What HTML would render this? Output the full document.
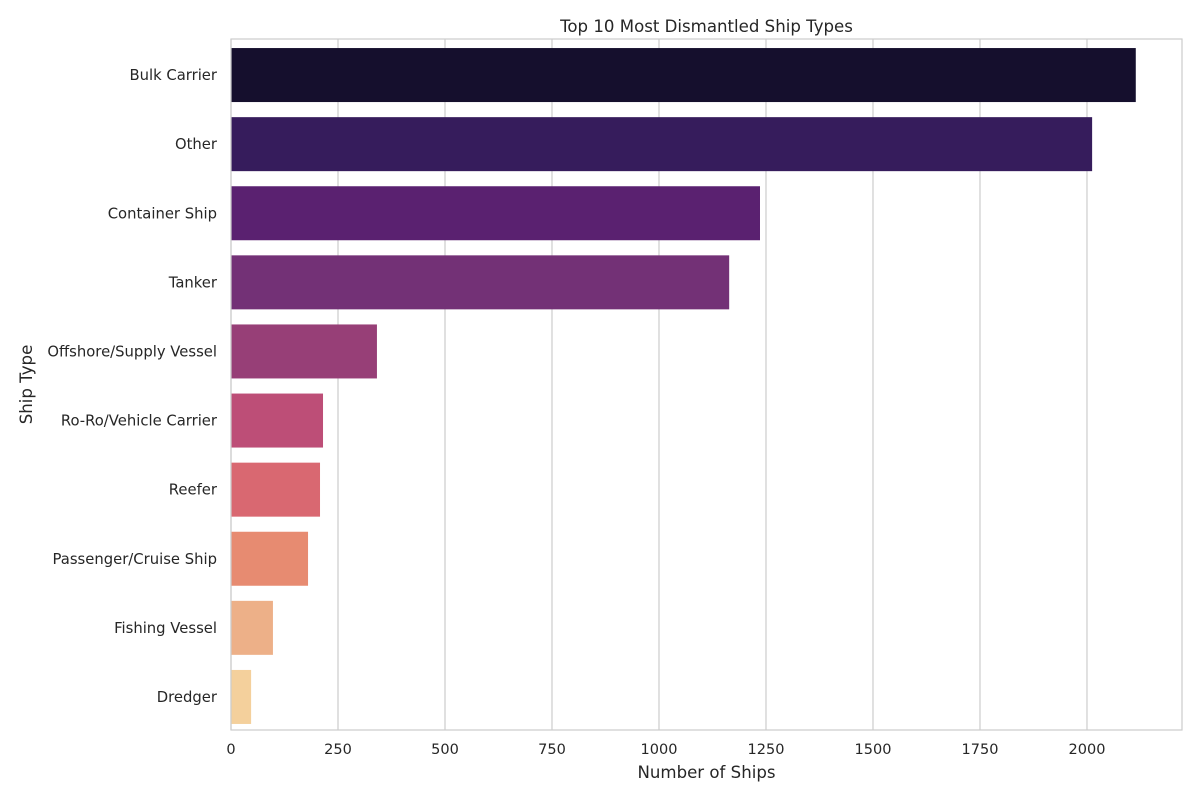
<!DOCTYPE html>
<html><head><meta charset="utf-8"><style>
body{margin:0;background:#fff;font-family:"DejaVu Sans","Liberation Sans",sans-serif;}
</style></head><body>
<svg id="chart" width="1200" height="800" xmlns="http://www.w3.org/2000/svg" font-family="DejaVu Sans, Liberation Sans, sans-serif"></svg>
<script>
const categories=["Bulk Carrier","Other","Container Ship","Tanker","Offshore/Supply Vessel","Ro-Ro/Vehicle Carrier","Reefer","Passenger/Cruise Ship","Fishing Vessel","Dredger"];
const values=[2114,2012,1236,1164,341,215,208,180,98,47];
const colors=["#150f2d","#361c5c","#5a2170","#733176","#973f77","#bd4e77","#d96871","#e78b71","#edb088","#f4d09c"];
const xTicks=[0,250,500,750,1000,1250,1500,1750,2000];
const L=231,R=1182,T=39,B=730,xMax=2222;
const x=v=>L+(v/xMax)*(R-L);
const band=(B-T)/categories.length;
const y=i=>T+band*i+band/2+1.5;
const svg=document.getElementById('chart');
const NS='http://www.w3.org/2000/svg';
function mk(tag,attrs,parent){const e=document.createElementNS(NS,tag);for(const k in attrs)e.setAttribute(k,attrs[k]);(parent||svg).appendChild(e);return e;}
xTicks.forEach(t=>{
  const g=mk('line',{x1:x(t),x2:x(t),y1:T,y2:B,stroke:'#cccccc','stroke-width':1.2});
  
  
  const tx=mk('text',{x:x(t),y:B+24,'text-anchor':'middle','font-size':14.5,fill:'#262626'});
  tx.textContent=t;
  
  
});
categories.forEach((c,i)=>{
  const r=mk('rect',{x:L,y:y(i)-27,width:x(values[i])-L,height:54,fill:colors[i]});
  
  
  const tx=mk('text',{x:L-14,y:y(i)+5,'text-anchor':'end','font-size':14.8,fill:'#262626'});
  tx.textContent=c;
  
  
});
const fr=mk('rect',{x:L,y:T,width:R-L,height:B-T,fill:'none',stroke:'#cccccc','stroke-width':1.2});


const title=mk('text',{x:(L+R)/2,y:32,'text-anchor':'middle','font-size':16.6,fill:'#262626'});
title.textContent='Top 10 Most Dismantled Ship Types';


const xl=mk('text',{x:(L+R)/2,y:778,'text-anchor':'middle','font-size':16.6,fill:'#262626'});
xl.textContent='Number of Ships';


const yl=mk('text',{x:32,y:(T+B)/2,'text-anchor':'middle','font-size':16.6,fill:'#262626',transform:`rotate(-90 32 ${(T+B)/2})`});
yl.textContent='Ship Type';


</script>
</body></html>
